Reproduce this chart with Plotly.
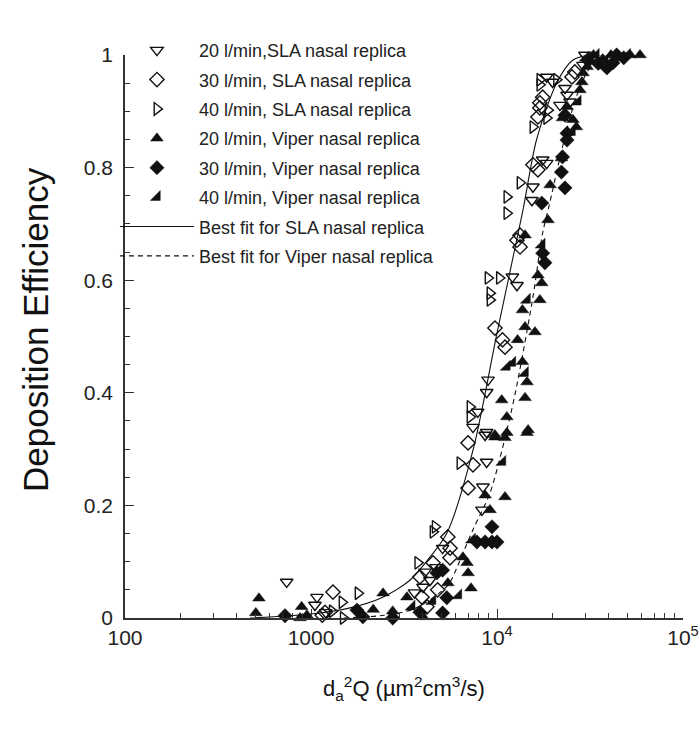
import plotly.graph_objects as go

# ---------------- data ----------------
sla20_x = [740, 1050, 1077, 1200, 3600, 4000, 4100, 4360, 4700, 5100, 8300, 8400, 8800, 8630, 7430,
           7880, 8800, 8800, 8950, 12100, 12800, 15400, 15600, 17600, 18500, 21800, 24700, 23200,
           23800, 18500, 19900, 29000, 29700]
sla20_y = [0.064, 0.023, 0.037, 0.010, 0.045, 0.055, 0.082, 0.067, 0.090, 0.124, 0.192, 0.233, 0.277,
           0.325, 0.339, 0.366, 0.330, 0.401, 0.423, 0.606, 0.591, 0.742, 0.766, 0.814, 0.808, 0.911,
           0.917, 0.941, 0.929, 0.961, 0.952, 0.982, 1.0]

sla30_x = [1150, 1190, 1313, 3850, 3950, 4200, 4530, 4800, 5440, 5590, 5590, 6990, 7430, 6990, 9750,
           10700, 11040, 12800, 13300, 13300, 15600, 16600, 16600, 17000, 17000, 17600, 25300, 26200]
sla30_y = [0.005, 0.010, 0.046, 0.073, 0.037, 0.020, 0.098, 0.050, 0.144, 0.124, 0.107, 0.231, 0.272,
           0.311, 0.515, 0.494, 0.481, 0.671, 0.659, 0.680, 0.805, 0.796, 0.890, 0.906, 0.915, 0.925,
           0.961, 0.970]

sla40_x = [1300, 1468, 1490, 1790, 3750, 4530, 4650, 6320, 7160, 7160, 8950, 10300, 9170, 9170, 11300,
           11300, 13300, 15600, 18800, 18500, 17000, 17000, 20900]
sla40_y = [0.012, 0.028, 0.0, 0.044, 0.098, 0.153, 0.162, 0.275, 0.375, 0.357, 0.604, 0.604, 0.577,
           0.565, 0.748, 0.719, 0.773, 0.872, 0.902, 0.888, 0.956, 0.947, 0.956]

vip20_x = [525, 505, 890, 950, 873, 2160, 2440, 2750, 3280, 4000, 5440, 6560, 6900, 6990, 7250, 9170,
           8630, 11040, 9750, 11040, 14500, 9750, 11300, 14700, 10600, 14150, 11300, 13700, 14500,
           12900, 14150, 16000, 13700, 17000, 16600, 17400, 14150, 19300, 18800, 22200, 22500, 25600,
           26700, 23800, 27900, 28600, 29000, 30500, 33000, 37000, 41000, 46000, 52000, 58700]
vip20_y = [0.035, 0.009, 0.020, 0.005, 0.0, 0.015, 0.044, 0.012, 0.037, 0.002, 0.062, 0.108, 0.098,
           0.080, 0.053, 0.192, 0.218, 0.215, 0.321, 0.320, 0.329, 0.325, 0.329, 0.334, 0.387, 0.391,
           0.357, 0.455, 0.419, 0.494, 0.517, 0.508, 0.547, 0.565, 0.609, 0.595, 0.680, 0.769, 0.707,
           0.817, 0.888, 0.885, 0.872, 0.908, 0.938, 0.952, 0.968, 0.979, 1.0, 0.993, 1.0, 0.995, 1.0,
           1.0]

vip30_x = [725, 1765, 1900, 2750, 3850, 4750, 5100, 5370, 5100, 7800, 8630, 9400, 10000, 9400, 17600,
           18100, 23200, 23800, 23800, 22500, 22200, 23200, 17400, 31000, 35000, 39000, 42000, 44000,
           48000]
vip30_y = [0.004, 0.014, 0.002, 0.0, 0.010, 0.080, 0.085, 0.036, 0.009, 0.135, 0.135, 0.135, 0.135,
           0.162, 0.648, 0.631, 0.893, 0.861, 0.849, 0.819, 0.792, 0.764, 0.737, 0.990, 0.985, 0.977,
           0.986, 1.0, 0.995]

vip40_x = [3480, 4500, 6200, 7340, 10700, 11300, 12100, 14150, 14500, 17400, 25300, 27200, 30000,
           34000, 38000, 43000, 50000]
vip40_y = [0.020, 0.030, 0.040, 0.139, 0.277, 0.446, 0.453, 0.435, 0.565, 0.663, 0.863, 0.917, 0.995,
           1.0, 0.990, 0.993, 1.0]

fit_sla_x = [470, 1000, 1622, 2400, 3400, 4360, 5380, 7430, 10000, 13800, 16300, 20900, 25600, 31600,
             40500]
fit_sla_y = [0.0, 0.007, 0.018, 0.036, 0.067, 0.108, 0.151, 0.298, 0.506, 0.725, 0.849, 0.950, 0.991,
             1.0, 1.0]

fit_vip_x = [1500, 2500, 3500, 4500, 5500, 6100, 6560, 7500, 9170, 11750, 12900, 15600, 17600, 19300,
             22500, 27000, 32000, 40000]
fit_vip_y = [0.0, 0.005, 0.015, 0.035, 0.060, 0.090, 0.115, 0.160, 0.222, 0.357, 0.420, 0.570, 0.684,
             0.740, 0.837, 0.930, 0.980, 1.0]

names = ["20 l/min,SLA nasal replica", "30 l/min, SLA nasal replica", "40 l/min, SLA nasal replica",
         "20 l/min, Viper nasal replica", "30 l/min, Viper nasal replica", "40 l/min, Viper nasal replica",
         "Best fit for SLA nasal replica", "Best fit for Viper nasal replica"]

x_tickvals = [100, 1000, 10000, 100000]
x_ticktext = ["100", "1000", "10<sup>4</sup>", "10<sup>5</sup>"]
x_minor = [m * d for d in (100, 1000, 10000) for m in range(2, 10)]
y_tickvals = [0, 0.2, 0.4, 0.6, 0.8, 1]
y_ticktext = ["0", "0.2", "0.4", "0.6", "0.8", "1"]

FONT = "Liberation Sans, Arial, Helvetica, sans-serif"
INK = "#111111"

fig = go.Figure()

series = [
    (sla20_x, sla20_y, "triangle-down-open", names[0]),
    (sla30_x, sla30_y, "diamond-open", names[1]),
    (sla40_x, sla40_y, "triangle-right-open", names[2]),
    (vip20_x, vip20_y, "triangle-up", names[3]),
    (vip30_x, vip30_y, "diamond", names[4]),
    (vip40_x, vip40_y, "triangle-se", names[5]),
]
for i, (xs, ys, sym, nm) in enumerate(series):
    fig.add_trace(go.Scatter(
        x=xs, y=ys, mode="markers", name=nm, legendgroup=f"g{i}",
        cliponaxis=False,
        marker=dict(symbol=sym, size=11, color=INK,
                    line=dict(color=INK, width=1.4 if "open" in sym else 0.5)),
    ))

fig.add_trace(go.Scatter(x=fit_sla_x, y=fit_sla_y, mode="lines", name=names[6], legendgroup="g6",
                         line=dict(color=INK, width=1.1, shape="spline", smoothing=0.8)))
fig.add_trace(go.Scatter(x=fit_vip_x, y=fit_vip_y, mode="lines", name=names[7], legendgroup="g7",
                         line=dict(color=INK, width=1.1, dash="5px,4px", shape="spline", smoothing=0.8)))

fig.update_layout(
    width=700, height=735,
    margin=dict(l=125, r=17, t=55, b=117, autoexpand=False),
    paper_bgcolor="white", plot_bgcolor="white",
    font=dict(family=FONT, color=INK),
    showlegend=True,
    legend=dict(x=-0.018, y=1.041, xanchor="left", yanchor="top", bgcolor="rgba(0,0,0,0)",
                font=dict(size=18, family=FONT, color="#222"), tracegroupgap=3,
                itemwidth=74, traceorder="grouped"),
    xaxis=dict(type="log", range=[2, 5], showgrid=False, zeroline=False, automargin=False,
               showline=True, linecolor="#333", linewidth=1.5,
               tickmode="array", tickvals=x_tickvals, ticktext=x_ticktext,
               ticks="inside", ticklen=9, tickwidth=1.2, tickcolor="#333",
               tickfont=dict(size=21, family=FONT, color="#222"),
               minor=dict(tickmode="array", tickvals=x_minor, ticks="inside", ticklen=5,
                          tickwidth=1, tickcolor="#333")),
    yaxis=dict(range=[0, 1.0], showgrid=False, zeroline=False, automargin=False,
               showline=True, linecolor="#333", linewidth=1.5,
               tickmode="array", tickvals=y_tickvals, ticktext=y_ticktext,
               ticks="inside", ticklen=9, tickwidth=1.2, tickcolor="#333",
               ticklabelstandoff=6,
               tickfont=dict(size=21, family=FONT, color="#222"),
               minor=dict(dtick=0.05, ticks="inside", ticklen=5, tickwidth=1, tickcolor="#333")),
    annotations=[
        dict(text="Deposition Efficiency", textangle=-90, xref="paper", yref="paper",
             x=(35 - 125) / 558, y=(618 - 330) / 563, xanchor="center", yanchor="middle",
             showarrow=False, font=dict(size=35, family=FONT, color="#111")),
        dict(text="d<sub>a</sub><sup>2</sup>Q (\u00b5m<sup>2</sup>cm<sup>3</sup>/s)", xref="paper",
             yref="paper", x=0.5, y=(618 - 688) / 563, xanchor="center", yanchor="middle",
             showarrow=False, font=dict(size=22, family=FONT, color="#111")),
    ],
)

fig.write_html("out.html", config={"displayModeBar": False},
               post_script="document.body.style.margin='0';")
